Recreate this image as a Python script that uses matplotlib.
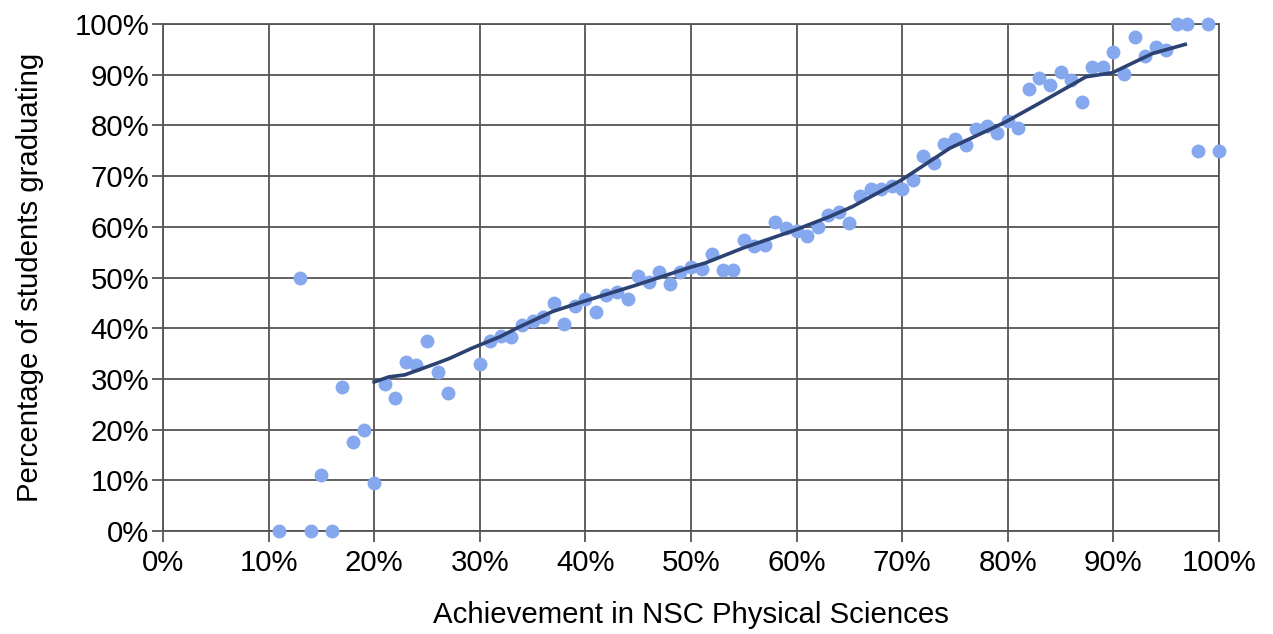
import matplotlib
matplotlib.use("Agg")
import matplotlib.pyplot as plt
from matplotlib.ticker import PercentFormatter

plt.rcParams['font.family'] = ['Liberation Sans', 'DejaVu Sans']

# achievement (%) and share graduating (%) per mark
achievement = [11, 13, 14, 15, 16, 17, 18, 19, 20, 21, 22, 23, 24, 25, 26, 27,
               30, 31, 32, 33, 34, 35, 36, 37, 38, 39, 40, 41, 42, 43, 44, 45,
               46, 47, 48, 49, 50, 51, 52, 53, 54, 55, 56, 57, 58, 59, 60, 61,
               62, 63, 64, 65, 66, 67, 68, 69, 70, 71, 72, 73, 74, 75, 76, 77,
               78, 79, 80, 81, 82, 83, 84, 85, 86, 87, 88, 89, 90, 91, 92, 93,
               94, 95, 96, 97, 98, 99, 100]
graduating = [0, 50, 0, 11, 0, 28.5, 17.5, 20, 9.5, 29, 26.3, 33.3, 32.7, 37.5, 31.3, 27.3,
              33, 37.5, 38.4, 38.3, 40.6, 41.5, 42.3, 45, 40.8, 44.4, 45.8, 43.2, 46.5, 47.2, 45.7, 50.4,
              49.2, 51, 48.8, 51, 52, 51.6, 54.7, 51.5, 51.5, 57.5, 56.3, 56.4, 61, 59.7, 59.2, 58.1,
              60, 62.3, 62.9, 60.8, 66, 67.5, 67.5, 68, 67.4, 69.2, 74, 72.6, 76.4, 77.4, 76.2, 79.3,
              79.9, 78.5, 80.9, 79.5, 87.1, 89.3, 88, 90.5, 89, 84.6, 91.5, 91.5, 94.4, 90.1, 97.4, 93.8,
              95.4, 94.8, 100, 100, 75, 100, 75]

# smoothed trend line
trend_x = [20, 21.4, 22.9, 24.5, 26.2, 27.2, 29.3, 31.9, 33.5, 36.9, 39.7, 44.8, 49.9,
           51.4, 54.9, 59.9, 63.1, 65.3, 69.9, 74.5, 79.8, 83, 87.4, 89.9, 92.1, 93.7, 96.8]
trend_y = [29.4, 30.4, 30.8, 32, 33.3, 34.1, 36.1, 38.3, 40, 43.3, 45.2, 48.5, 52,
           52.9, 55.8, 59.4, 62, 64, 69.2, 75.5, 80.7, 84.4, 89.6, 90.4, 92.6, 94.2, 96]

fig = plt.figure(figsize=(12.73, 6.34), dpi=100)
ax = fig.add_axes([0.128, 0.1625, 0.8296, 0.7995])

ax.scatter(achievement, graduating, s=100, color='#86a8ee', zorder=3, clip_on=False, linewidths=0)
ax.plot(trend_x, trend_y, color='#2b4273', lw=2.6, zorder=4)

ax.set_xlim(0, 100)
ax.set_ylim(0, 100)
ax.set_xticks(range(0, 101, 10))
ax.set_yticks(range(0, 101, 10))
ax.xaxis.set_major_formatter(PercentFormatter(decimals=0))
ax.yaxis.set_major_formatter(PercentFormatter(decimals=0))
ax.grid(True, color='#555555', lw=1.3)
ax.set_axisbelow(True)
for s in ax.spines.values():
    s.set_color('#555555')
    s.set_linewidth(1.3)
ax.tick_params(length=8, width=1.3, color='#555555', labelsize=21.2, pad=5)
ax.tick_params(axis='y', pad=2)

ax.set_xlabel('Achievement in NSC Physical Sciences', fontsize=21.2, labelpad=17)
ax.set_ylabel('Percentage of students graduating', fontsize=21.2, labelpad=22)

fig.savefig('out.png', dpi=100)
